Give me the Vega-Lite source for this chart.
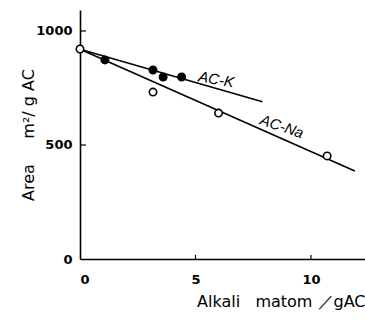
{
  "$schema": "https://vega.github.io/schema/vega-lite/v6.json",
  "width": 285,
  "height": 249,
  "autosize": {"type": "none"},
  "padding": {"left": 80, "top": 10, "right": 0, "bottom": 62},
  "background": "white",
  "config": {
    "view": {"stroke": null},
    "font": "DejaVu Sans",
    "axis": {
      "grid": false,
      "ticks": false,
      "domainColor": "black",
      "domainWidth": 1.6,
      "labelColor": "black",
      "titleColor": "black",
      "labelFont": "DejaVu Sans",
      "titleFont": "DejaVu Sans",
      "labelFontSize": 13,
      "labelFontWeight": "bold",
      "titleFontSize": 15,
      "titleFontWeight": "normal"
    }
  },
  "datasets": {
    "lines": [
      {"x": 0, "y": 920, "series": "AC-K"},
      {"x": 7.9, "y": 690, "series": "AC-K"},
      {"x": 0, "y": 920, "series": "AC-Na"},
      {"x": 11.9, "y": 386, "series": "AC-Na"}
    ],
    "points": [
      {"x": 0, "y": 921, "series": "AC-Na"},
      {"x": 3.16, "y": 732, "series": "AC-Na"},
      {"x": 6.0, "y": 640, "series": "AC-Na"},
      {"x": 10.7, "y": 452, "series": "AC-Na"},
      {"x": 1.08, "y": 873, "series": "AC-K"},
      {"x": 3.16, "y": 829, "series": "AC-K"},
      {"x": 3.6, "y": 798, "series": "AC-K"},
      {"x": 4.4, "y": 798, "series": "AC-K"}
    ],
    "labels": [
      {"x": 5.9, "y": 787, "label": "AC-K", "angle": 10},
      {"x": 8.74, "y": 581, "label": "AC-Na", "angle": 19}
    ],
    "xticks": [
      {"x": 5, "y0": 0, "y1": 18},
      {"x": 10, "y0": 0, "y1": 18}
    ],
    "yticks": [
      {"y": 500, "x0": 0, "x1": 0.26},
      {"y": 1000, "x0": 0, "x1": 0.26}
    ]
  },
  "layer": [
    {
      "data": {"name": "lines"},
      "mark": {"type": "line", "color": "black", "strokeWidth": 1.6},
      "encoding": {
        "x": {
          "field": "x", "type": "quantitative",
          "scale": {"domain": [0, 12.34], "nice": false},
          "axis": {
            "values": [0, 5, 10],
            "format": "d",
            "labelPadding": 14,
            "title": "Alkali\u00a0\u00a0 matom\u00a0／gAC",
            "titleAnchor": "end",
            "titlePadding": 7,
            "titleFontSize": 16
          }
        },
        "y": {
          "field": "y", "type": "quantitative",
          "scale": {"domain": [0, 1092], "nice": false},
          "axis": {
            "values": [0, 500, 1000],
            "format": "d",
            "labelPadding": 8,
            "title": "Area\u00a0\u00a0\u00a0\u00a0 m²/\u00a0g\u00a0AC",
            "titleX": -52,
            "titleBaseline": "middle",
            "titleFontSize": 16
          }
        },
        "detail": {"field": "series"}
      }
    },
    {
      "data": {"name": "xticks"},
      "mark": {"type": "rule", "color": "black", "strokeWidth": 1.2},
      "encoding": {
        "x": {"field": "x", "type": "quantitative"},
        "y": {"field": "y0", "type": "quantitative"},
        "y2": {"field": "y1"}
      }
    },
    {
      "data": {"name": "yticks"},
      "mark": {"type": "rule", "color": "black", "strokeWidth": 1.2},
      "encoding": {
        "y": {"field": "y", "type": "quantitative"},
        "x": {"field": "x0", "type": "quantitative"},
        "x2": {"field": "x1"}
      }
    },
    {
      "data": {"name": "points"},
      "mark": {"type": "point", "shape": "circle", "size": 55, "strokeWidth": 1.6, "opacity": 1, "filled": false},
      "encoding": {
        "x": {"field": "x", "type": "quantitative"},
        "y": {"field": "y", "type": "quantitative"},
        "fill": {
          "field": "series", "type": "nominal",
          "scale": {"domain": ["AC-K", "AC-Na"], "range": ["black", "white"]},
          "legend": null
        },
        "stroke": {"value": "black"},
        "fillOpacity": {"value": 1},
        "strokeOpacity": {"value": 1}
      }
    },
    {
      "data": {"name": "labels"},
      "mark": {"type": "text", "fontSize": 15, "fontStyle": "italic", "font": "Liberation Sans", "color": "black"},
      "encoding": {
        "x": {"field": "x", "type": "quantitative"},
        "y": {"field": "y", "type": "quantitative"},
        "text": {"field": "label"},
        "angle": {"field": "angle", "type": "quantitative", "scale": null}
      }
    }
  ]
}
